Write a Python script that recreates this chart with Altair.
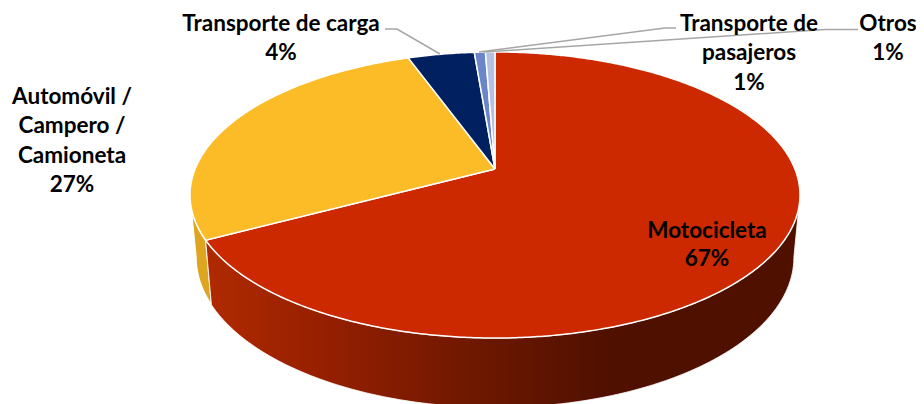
import math
import altair as alt
import pandas as pd

# Shares as drawn, clockwise from twelve o'clock
names = ["Motocicleta", "Automóvil / Campero / Camioneta", "Transporte de carga", "Transporte de pasajeros", "Otros"]
shares = [67.2, 27.3, 4.2, 0.7, 0.6]
colors = ["#CC2900", "#FBBC27", "#002060", "#6B86C8", "#B4C1E3"]

# Text rows: text, centre x, baseline-middle y
label_text = ["Motocicleta", "67%", "Automóvil /", "Campero /", "Camioneta", "27%",
              "Transporte de carga", "4%", "Transporte de", "pasajeros", "1%", "Otros", "1%"]
label_x = [707, 707, 72, 72, 72, 72, 281, 281, 749, 749, 749, 888, 888]
label_y = [231, 259, 97, 126, 156, 185, 24, 53, 24, 53, 83, 24, 53]

# Leader lines
leader_id = [0, 0, 0, 1, 1, 1, 2, 2, 2]
leader_x = [385, 397, 440, 479, 665, 676, 484, 825, 858]
leader_y = [29, 29, 54, 52, 28, 28, 52, 29.5, 29.5]

# Tilted-disc geometry
CX, CY, A, B, K = 495.0, 169.0, 299.9, 138.3, 0.1818
LOW_SX, LOW_CY, LOW_SY = 0.98, 230.0, 1.05


def rim(deg):
    t = math.radians(deg)
    den = 1 + K * math.cos(t)
    return A * math.sin(t) / den, -B * math.cos(t) / den


def upper(deg):
    dx, dy = rim(deg)
    return CX + dx, CY + dy


def lower(deg):
    dx, dy = rim(deg)
    return CX + LOW_SX * dx, LOW_CY + LOW_SY * dy


def sweep(a, b, step=0.5):
    n = max(2, int(abs(b - a) / step) + 1)
    return [a + (b - a) * i / (n - 1) for i in range(n)]


def frame(points):
    return pd.DataFrame([{"x": p[0], "y": p[1], "i": i} for i, p in enumerate(points)])


x_scale = alt.Scale(domain=[8, 916], nice=False, zero=False)
y_scale = alt.Scale(domain=[404, 8], nice=False, zero=False)
X = alt.X("x:Q", scale=x_scale, axis=None)
Y = alt.Y("y:Q", scale=y_scale, axis=None)

layers = []

# Side walls
edges = []
total = 0.0
for s in shares:
    edges.append((total * 3.6, (total + s) * 3.6))
    total += s
moto_end = edges[0][1]
right_deg = math.degrees(math.acos(-K))
left_deg = 360 - right_deg

red_wall = [upper(d) for d in sweep(right_deg, moto_end)] + [lower(d) for d in sweep(moto_end, right_deg)]
yellow_wall = [upper(d) for d in sweep(moto_end, left_deg)] + [lower(d) for d in sweep(left_deg, moto_end)]
red_wall.append(red_wall[0])
yellow_wall.append(yellow_wall[0])

red_grad = alt.LinearGradient(
    gradient="linear", x1=0, x2=1, y1=0, y2=0,
    stops=[
        alt.GradientStop(color="#B02A00", offset=0),
        alt.GradientStop(color="#941F00", offset=0.21),
        alt.GradientStop(color="#701800", offset=0.44),
        alt.GradientStop(color="#4F1000", offset=0.68),
        alt.GradientStop(color="#4F1000", offset=1),
    ],
)
layers.append(alt.Chart(frame(yellow_wall)).mark_line(fill="#DDA520", stroke="white", strokeWidth=1.2).encode(
    x=X, y=Y, order="i:Q"))
layers.append(alt.Chart(frame(red_wall)).mark_line(fill=red_grad, stroke="white", strokeWidth=0.8).encode(
    x=X, y=Y, order="i:Q"))

# Top slices
for (a, b), c in zip(edges, colors):
    pts = [(CX, CY)] + [upper(d) for d in sweep(a, b)] + [(CX, CY)]
    layers.append(alt.Chart(frame(pts)).mark_line(fill=c, stroke="white", strokeWidth=1.5).encode(
        x=X, y=Y, order="i:Q"))

# Leaders
leaders = pd.DataFrame({"x": leader_x, "y": leader_y, "id": leader_id, "i": range(len(leader_x))})
layers.append(alt.Chart(leaders).mark_line(color="#A6A6A6", strokeWidth=1.5).encode(
    x=X, y=Y, detail="id:N", order="i:Q"))

# Text
labels = pd.DataFrame({"t": label_text, "x": label_x, "y": label_y})
layers.append(alt.Chart(labels).mark_text(
    font="Lato", fontWeight="bold", fontSize=22.5, color="black", align="center", baseline="middle"
).encode(x=X, y=Y, text="t:N"))

chart = alt.layer(*layers).properties(
    width=908, height=396, padding=0, background="white",
    autosize=alt.AutoSizeParams(type="none"),
).configure_view(stroke=None)

chart.save("out.html", embed_options={"renderer": "svg", "actions": False})
